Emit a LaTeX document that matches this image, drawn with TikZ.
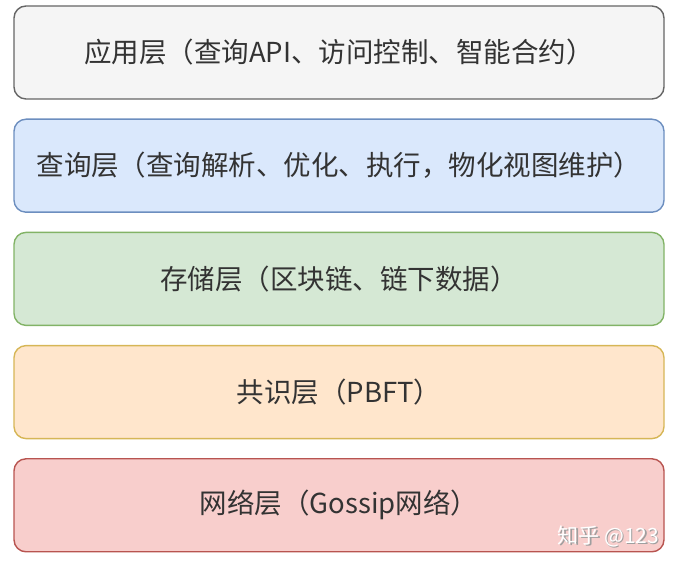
\documentclass[tikz,border=0pt]{standalone}
\usepackage{fontspec}
\setmainfont{Noto Sans CJK SC}
\usetikzlibrary{positioning}

\definecolor{appfill}{HTML}{F5F5F5}
\definecolor{appline}{HTML}{666666}
\definecolor{queryfill}{HTML}{DAE8FC}
\definecolor{queryline}{HTML}{6C8EBF}
\definecolor{storefill}{HTML}{D5E8D4}
\definecolor{storeline}{HTML}{82B366}
\definecolor{consfill}{HTML}{FFE6CC}
\definecolor{consline}{HTML}{D6B656}
\definecolor{netfill}{HTML}{F8CECC}
\definecolor{netline}{HTML}{B85450}
\definecolor{labeltext}{HTML}{333333}

\begin{document}
\begin{tikzpicture}[x=1pt, y=1pt, line join=round,
    layer/.style={draw, line width=1.4pt, rounded corners=12pt, minimum width=650pt, minimum height=93pt,
      inner sep=0pt, text=labeltext, font=\fontsize{27.5}{32}\selectfont},
    node distance=18.8pt]
    \useasboundingbox (0,0) rectangle (678,564);

    \node[layer, fill=appfill, draw=appline] (app) at (339,511.5) {应用层（查询API、访问控制、智能合约）};
    \node[layer, fill=queryfill, draw=queryline, below=of app] (query) {查询层（查询解析、优化、执行，物化视图维护）};
    \node[layer, fill=storefill, draw=storeline, below=of query] (storage) {存储层（区块链、链下数据）};
    \node[layer, fill=consfill, draw=consline, below=of storage] (consensus) {共识层（PBFT）};
    \node[layer, fill=netfill, draw=netline, below=of consensus] (network) {网络层（Gossip网络）};

    % watermark
    \node[text=gray!75, font=\fontsize{21}{24}\selectfont] at (609.8,26.2) {知乎 @123};
    \node[text=white, font=\fontsize{21}{24}\selectfont] (mark) at (608.5,27.5) {知乎 @123};

\end{tikzpicture}
\end{document}
